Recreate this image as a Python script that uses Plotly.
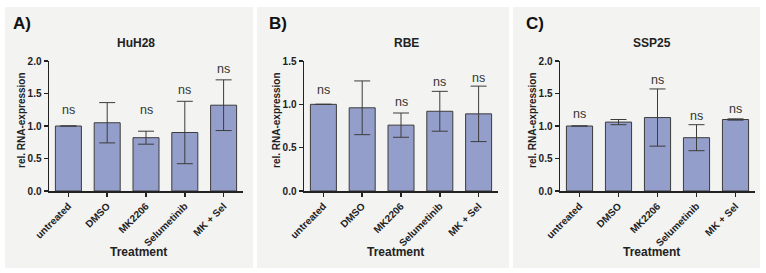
import plotly.graph_objects as go

categories = ["untreated", "DMSO", "MK2206", "Selumetinib", "MK + Sel"]

panel_letters = ["A)", "B)", "C)"]
panel_titles = ["HuH28", "RBE", "SSP25"]

huh28_values = [1.00, 1.05, 0.82, 0.90, 1.32]
huh28_errors = [None, 0.31, 0.10, 0.48, 0.39]
huh28_sig = ["ns", "", "ns", "ns", "ns"]
huh28_sig_y = [1.25, None, 1.25, 1.55, 1.88]

rbe_values = [1.00, 0.96, 0.76, 0.92, 0.89]
rbe_errors = [None, 0.31, 0.14, 0.23, 0.32]
rbe_sig = ["ns", "", "ns", "ns", "ns"]
rbe_sig_y = [1.16, None, 1.03, 1.26, 1.30]

ssp25_values = [1.00, 1.06, 1.13, 0.82, 1.10]
ssp25_errors = [None, 0.04, 0.44, 0.20, 0.01]
ssp25_sig = ["ns", "", "ns", "ns", "ns"]
ssp25_sig_y = [1.18, None, 1.71, 1.16, 1.26]

y_max = [2.0, 1.5, 2.0]
y_ticks = [[0, 0.5, 1.0, 1.5, 2.0], [0, 0.5, 1.0, 1.5], [0, 0.5, 1.0, 1.5, 2.0]]

W, H = 766, 273
BAR = "#949ecb"
PANEL_BG = "#f3f3f2"
FONT = "Liberation Sans, Arial, sans-serif"

# pixel layout (x0, x1 of plot area; y of top / bottom)
plot_x = [(49, 243), (304, 498), (560, 755)]
plot_top, plot_bot = 61, 191
panel_bg = [(5, 253), (257, 509), (513, 760)]
letter_x = [22, 278, 535]
title_x = [136, 406, 652]
xtitle_x = [138, 395, 651]
ytitle_x = [21, 276, 532]

def px(x):
    return x / W

def py(y):
    return 1 - y / H

series = [
    (huh28_values, huh28_errors, huh28_sig, huh28_sig_y),
    (rbe_values, rbe_errors, rbe_sig, rbe_sig_y),
    (ssp25_values, ssp25_errors, ssp25_sig, ssp25_sig_y),
]

fig = go.Figure()
annotations = []
shapes = []

for i, (vals, errs, sig, sig_y) in enumerate(series):
    n = "" if i == 0 else str(i + 1)
    xa, ya = "x" + n, "y" + n
    fig.add_trace(go.Bar(
        x=categories, y=vals, xaxis=xa, yaxis=ya,
        marker=dict(color=BAR, line=dict(color="#3c3c3c", width=1)),
        width=0.67,
        error_y=dict(type="data", array=errs, visible=True,
                     color="#3c3c3c", thickness=1, width=8),
        showlegend=False, hoverinfo="skip",
    ))
    x0, x1 = plot_x[i]
    fig.update_layout(**{
        "xaxis" + n: dict(
            domain=[px(x0), px(x1)], anchor=ya, type="category", automargin=False,
            range=[-0.5, 4.5], showline=True, linecolor="#222", linewidth=1.5,
            ticks="outside", ticklen=4, tickcolor="#222", tickwidth=1.5,
            tickangle=-45, showgrid=False, zeroline=False,
            tickvals=categories, ticktext=[f"<b>{c}</b>" for c in categories],
            tickfont=dict(family=FONT, size=10, color="#222"),
        ),
        "yaxis" + n: dict(
            domain=[py(plot_bot), py(plot_top)], anchor=xa, automargin=False,
            range=[0, y_max[i]], tickvals=y_ticks[i],
            ticktext=[f"<b>{t:.1f}</b>" for t in y_ticks[i]],
            showline=True, linecolor="#222", linewidth=1.5,
            ticks="outside", ticklen=4, tickcolor="#222", tickwidth=1.5,
            showgrid=False, zeroline=False,
            tickfont=dict(family=FONT, size=10, color="#222"),
        ),
    })
    for c, s, sy in zip(categories, sig, sig_y):
        if s:
            annotations.append(dict(x=c, y=sy, xref=xa, yref=ya, text=s,
                                    showarrow=False, yanchor="middle",
                                    font=dict(family=FONT, size=12.5, color="#333")))
    bx0, bx1 = panel_bg[i]
    shapes.append(dict(type="rect", xref="paper", yref="paper", layer="below",
                       x0=px(bx0), x1=px(bx1), y0=py(268), y1=py(7),
                       fillcolor=PANEL_BG, line=dict(width=0)))
    annotations.append(dict(x=px(letter_x[i]), y=py(23), xref="paper", yref="paper",
                            text=f"<b>{panel_letters[i]}</b>", showarrow=False,
                            xanchor="center", yanchor="middle",
                            font=dict(family=FONT, size=17, color="#111")))
    annotations.append(dict(x=px(title_x[i]), y=py(43), xref="paper", yref="paper",
                            text=f"<b>{panel_titles[i]}</b>", showarrow=False,
                            xanchor="center", yanchor="middle",
                            font=dict(family=FONT, size=12, color="#222")))
    annotations.append(dict(x=px(xtitle_x[i]), y=py(252), xref="paper", yref="paper",
                            text="<b>Treatment</b>", showarrow=False,
                            xanchor="center", yanchor="middle",
                            font=dict(family=FONT, size=12, color="#222")))
    annotations.append(dict(x=px(ytitle_x[i]), y=py(120), xref="paper", yref="paper",
                            text="<b>rel. RNA-expression</b>", showarrow=False,
                            textangle=-90, xanchor="center", yanchor="middle",
                            font=dict(family=FONT, size=10, color="#222")))

fig.update_layout(
    width=W, height=H, margin=dict(l=0, r=0, t=0, b=0, autoexpand=False),
    paper_bgcolor="white", plot_bgcolor="rgba(0,0,0,0)",
    annotations=annotations, shapes=shapes, bargap=0.33,
    font=dict(family=FONT), hovermode=False,
)

fig.write_html("out.html", config={"displayModeBar": False, "staticPlot": True},
               post_script="document.body.style.margin='0';document.body.style.overflow='hidden';")
